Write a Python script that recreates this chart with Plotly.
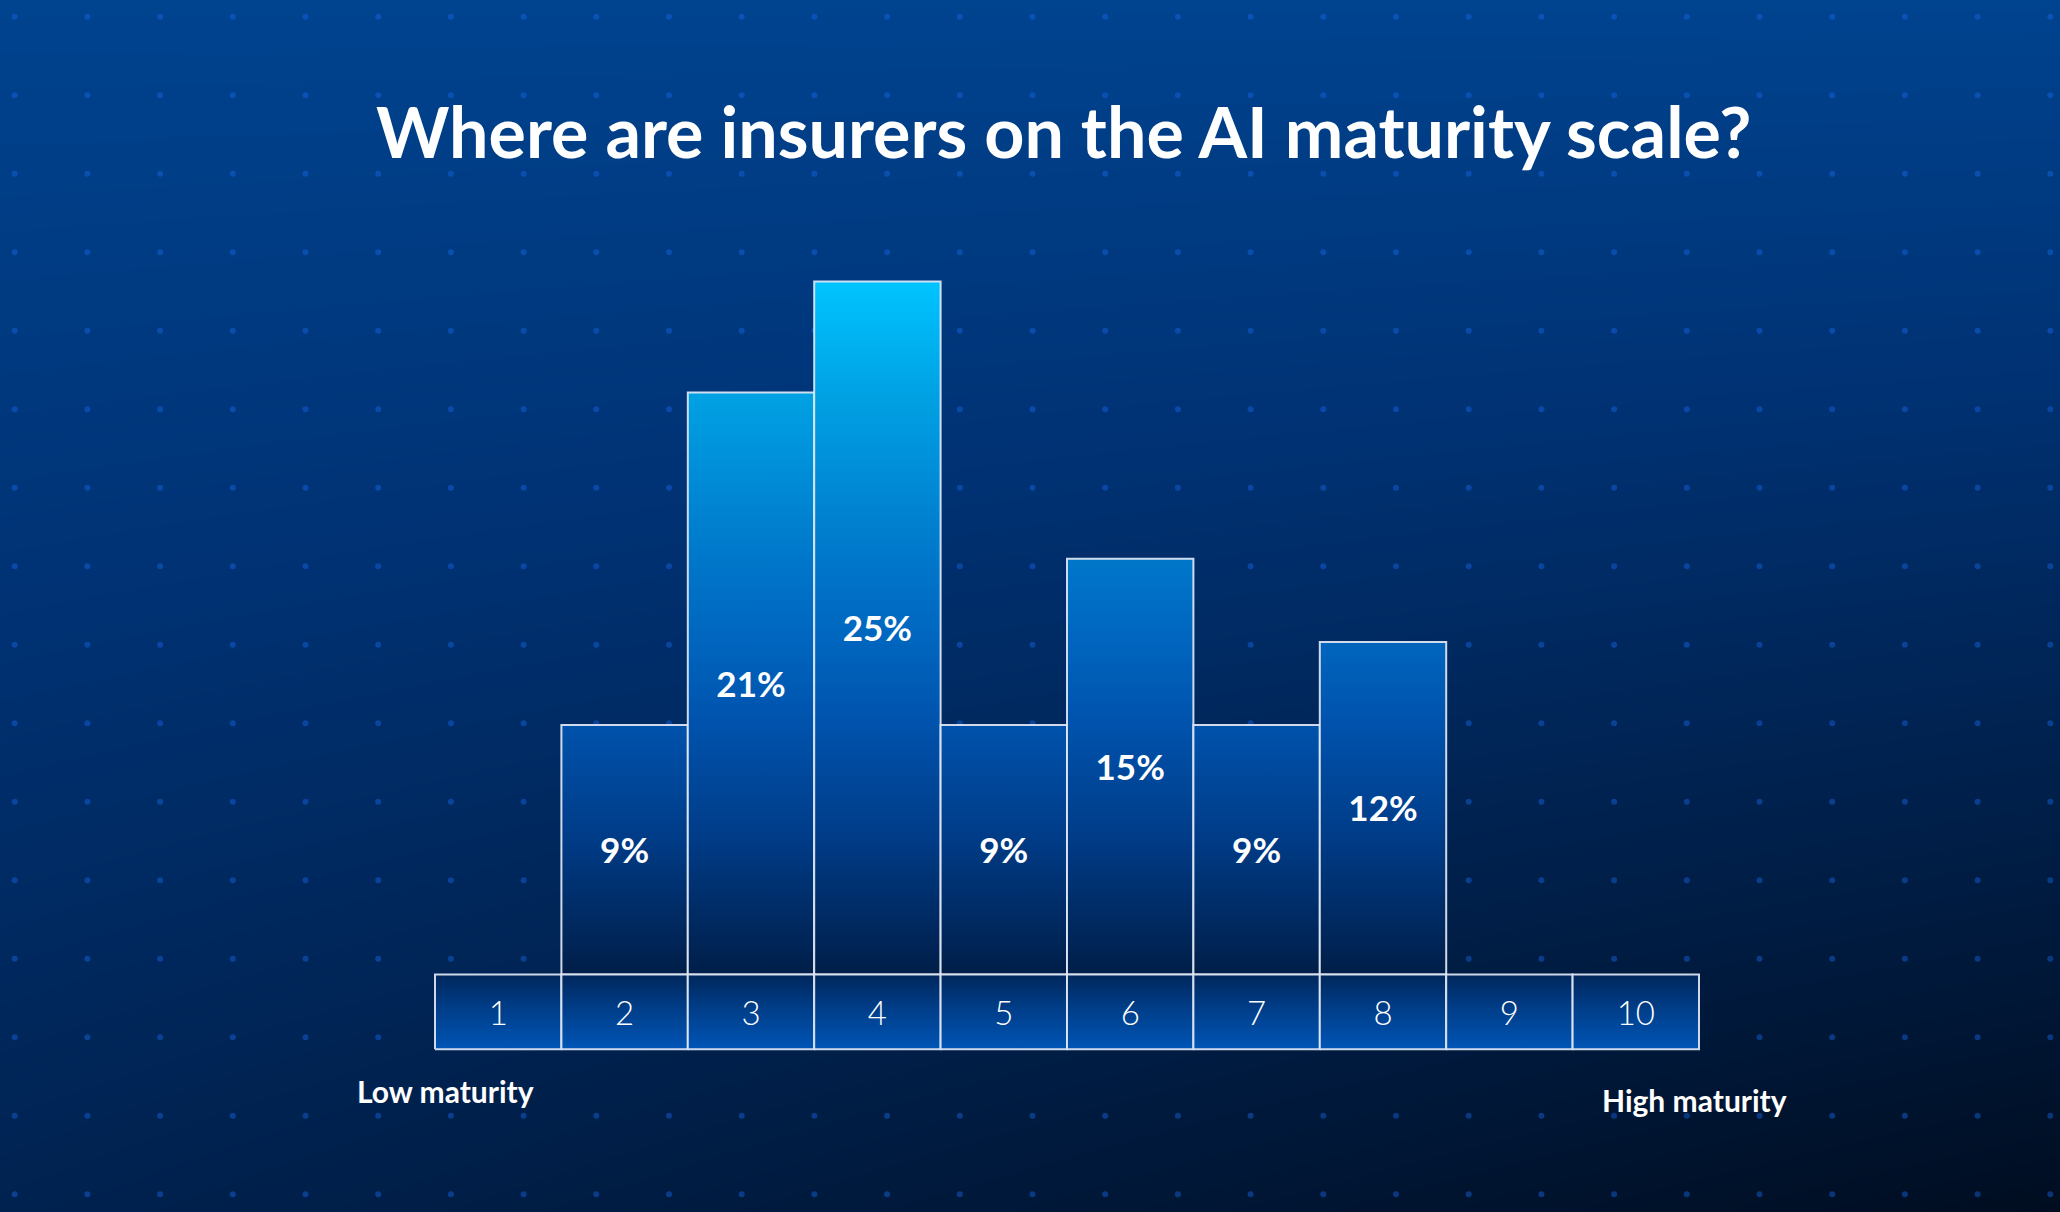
import numpy as np
import plotly.graph_objects as go

# ---------------- data ----------------
levels = [1, 2, 3, 4, 5, 6, 7, 8, 9, 10]
shares = [0, 9, 21, 25, 9, 15, 9, 12, 0, 0]          # % of insurers
share_labels = ["", "9%", "21%", "25%", "9%", "15%", "9%", "12%", "", ""]
title_text = "Where are insurers on the AI maturity scale?"
low_label = "Low maturity"
high_label = "High maturity"

# ---------------- styling ----------------
W, H = 2060, 1212
FONT = "Lato"
X0_PX, CELL_PX = 435.0, 126.4      # left edge of scale, width of one level
BASE_PX, UNIT_PX = 974.6, 27.72    # baseline pixel, pixels per percent
SCALE_H = 2.69                     # height of the scale row (in % units)
TEXT_NUDGE = 0.16                  # optical centring of text (in % units)
XR = [0.4, 10.6]
YR = [-3.2, 25.8]

def xpx(v):
    return X0_PX + (v - 0.5) * CELL_PX

def ypx(v):
    return BASE_PX - v * UNIT_PX

xdom = [xpx(XR[0]) / W, xpx(XR[1]) / W]
ydom = [1 - ypx(YR[0]) / H, 1 - ypx(YR[1]) / H]

bar_cs = [
    [0.00, "#001E48"],
    [0.08, "#002A62"],
    [0.20, "#003C88"],
    [0.36, "#0052AC"],
    [0.48, "#0065BE"],
    [0.60, "#0077CA"],
    [0.84, "#00A2E4"],
    [1.00, "#00C4FF"],
]
cell_cs = [[0.0, "#0055B6"], [0.55, "#003D88"], [1.0, "#00275C"]]
edge = "rgba(225,232,245,0.92)"

fig = go.Figure()

# ---------------- background (gradient + dot grid) ----------------
gx = np.linspace(0, W, 42)
gy = np.linspace(0, H, 26)
GX, GY = np.meshgrid(gx / W, gy / H)
gz = GY * (0.6 + 0.4 * GX)
fig.add_trace(go.Heatmap(
    x=gx, y=gy, z=gz, zsmooth="best", showscale=False, hoverinfo="skip",
    zmin=0, zmax=1,
    colorscale=[[0, "#00438F"], [0.3, "#003274"], [0.6, "#002250"], [1, "#000D20"]],
    xaxis="x", yaxis="y"))
dx = np.arange(14.7, W, 72.7)
dy = np.arange(16.7, H, 78.5)
DX, DY = np.meshgrid(dx, dy)
fig.add_trace(go.Scatter(
    x=DX.ravel(), y=DY.ravel(), mode="markers", hoverinfo="skip",
    marker=dict(size=6, color="rgba(25,105,235,0.42)", line=dict(width=0)),
    xaxis="x", yaxis="y", showlegend=False))

# ---------------- bars ----------------
for lv, v in zip(levels, shares):
    if v <= 0:
        continue
    fig.add_trace(go.Scatter(
        x=[lv - 0.5, lv - 0.5, lv + 0.5, lv + 0.5, lv - 0.5],
        y=[0, v, v, 0, 0],
        mode="lines", fill="toself",
        fillgradient=dict(type="vertical", start=0, stop=max(shares), colorscale=bar_cs),
        line=dict(color=edge, width=2),
        hoverinfo="skip", showlegend=False, xaxis="x2", yaxis="y2"))

# ---------------- scale row ----------------
for lv in levels:
    fig.add_trace(go.Scatter(
        x=[lv - 0.5, lv - 0.5, lv + 0.5, lv + 0.5, lv - 0.5],
        y=[-SCALE_H, 0, 0, -SCALE_H, -SCALE_H],
        mode="lines", fill="toself",
        fillgradient=dict(type="vertical", start=-SCALE_H, stop=0, colorscale=cell_cs),
        line=dict(color=edge, width=2),
        hoverinfo="skip", showlegend=False, xaxis="x2", yaxis="y2"))

# scale numbers
fig.add_trace(go.Scatter(
    x=levels, y=[-SCALE_H / 2 - TEXT_NUDGE - 0.02] * len(levels), mode="text",
    text=[str(l) for l in levels],
    textfont=dict(family=FONT, size=33, color="white", weight=300),
    hoverinfo="skip", showlegend=False, xaxis="x2", yaxis="y2"))

# value labels
fig.add_trace(go.Scatter(
    x=[l for l, v in zip(levels, shares) if v > 0],
    y=[v / 2 - TEXT_NUDGE for v in shares if v > 0],
    mode="text",
    text=[t for t, v in zip(share_labels, shares) if v > 0],
    textfont=dict(family=FONT, size=35, color="white", weight=700),
    hoverinfo="skip", showlegend=False, xaxis="x2", yaxis="y2"))

# ---------------- text ----------------
fig.add_annotation(
    text=title_text, x=1063 / W, y=1 - 131 / H, xref="paper", yref="paper",
    xanchor="center", yanchor="middle", showarrow=False,
    font=dict(family=FONT, size=70, color="white", weight=700))
fig.add_annotation(
    text=low_label, x=355 / W, y=1 - 1091 / H, xref="paper", yref="paper",
    xanchor="left", yanchor="middle", showarrow=False,
    font=dict(family=FONT, size=30, color="white", weight=700))
fig.add_annotation(
    text=high_label, x=1789 / W, y=1 - 1100 / H, xref="paper", yref="paper",
    xanchor="right", yanchor="middle", showarrow=False,
    font=dict(family=FONT, size=30, color="white", weight=700))

hidden = dict(showgrid=False, zeroline=False, showticklabels=False, ticks="",
              showline=False, fixedrange=True)
fig.update_layout(
    width=W, height=H, margin=dict(l=0, r=0, t=0, b=0),
    paper_bgcolor="#002a60", plot_bgcolor="rgba(0,0,0,0)",
    showlegend=False,
    xaxis=dict(range=[0, W], domain=[0, 1], **hidden),
    yaxis=dict(range=[H, 0], domain=[0, 1], **hidden),
    xaxis2=dict(range=XR, domain=xdom, anchor="y2", **hidden),
    yaxis2=dict(range=YR, domain=ydom, anchor="x2", **hidden),
)

fig.write_html(
    "out.html",
    config={"displayModeBar": False, "staticPlot": True},
    post_script="document.body.style.margin='0';document.body.style.padding='0';"
                "document.body.style.background='#000d20';",
)
